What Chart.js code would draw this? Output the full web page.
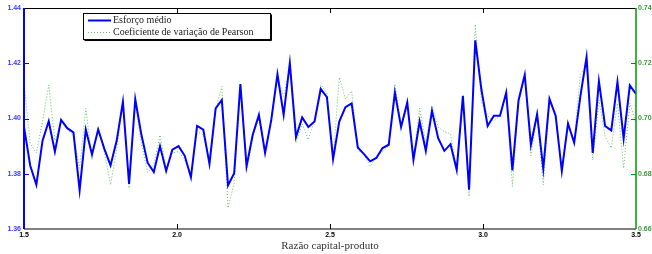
<!DOCTYPE html>
<html>
<head>
<meta charset="utf-8">
<script src="https://cdn.jsdelivr.net/npm/chart.js@4.4.1/dist/chart.umd.min.js"></script>
<style>
  html, body { margin: 0; padding: 0; background: #fff; }
  #wrap { width: 652px; height: 254px; }
</style>
</head>
<body>
<div id="wrap"><canvas id="chart" width="652" height="254"></canvas></div>
<script>
// razão capital-produto (100 pontos entre 1.5 e 3.5)
const razao = [
  1.5, 1.5202, 1.5404, 1.5606, 1.5808, 1.6010, 1.6212, 1.6414, 1.6616, 1.6818,
  1.7020, 1.7222, 1.7424, 1.7626, 1.7828, 1.8030, 1.8232, 1.8434, 1.8636, 1.8838,
  1.9040, 1.9242, 1.9444, 1.9646, 1.9848, 2.0051, 2.0253, 2.0455, 2.0657, 2.0859,
  2.1061, 2.1263, 2.1465, 2.1667, 2.1869, 2.2071, 2.2273, 2.2475, 2.2677, 2.2879,
  2.3081, 2.3283, 2.3485, 2.3687, 2.3889, 2.4091, 2.4293, 2.4495, 2.4697, 2.4899,
  2.5101, 2.5303, 2.5505, 2.5707, 2.5909, 2.6111, 2.6313, 2.6515, 2.6717, 2.6919,
  2.7121, 2.7323, 2.7525, 2.7727, 2.7929, 2.8131, 2.8333, 2.8535, 2.8737, 2.8939,
  2.9141, 2.9343, 2.9545, 2.9747, 2.9949, 3.0152, 3.0354, 3.0556, 3.0758, 3.0960,
  3.1162, 3.1364, 3.1566, 3.1768, 3.1970, 3.2172, 3.2374, 3.2576, 3.2778, 3.2980,
  3.3182, 3.3384, 3.3586, 3.3788, 3.3990, 3.4192, 3.4394, 3.4596, 3.4798, 3.5
];

const esforco = [
  1.397, 1.383, 1.376, 1.392, 1.399, 1.388, 1.3995, 1.3965, 1.395, 1.374,
  1.396, 1.387, 1.396, 1.389, 1.383, 1.392, 1.406, 1.3763, 1.407, 1.394,
  1.384, 1.3806, 1.390, 1.381, 1.3887, 1.390, 1.3865, 1.3787, 1.3973, 1.396,
  1.3836, 1.4037, 1.4067, 1.3758, 1.3802, 1.4125, 1.3827, 1.3941, 1.4013, 1.3875,
  1.3995, 1.416, 1.4013, 1.420, 1.3933, 1.4004, 1.3969, 1.3989, 1.4107, 1.4077,
  1.3853, 1.3989, 1.4041, 1.4055, 1.3895, 1.3871, 1.3845, 1.3857, 1.3893, 1.3905,
  1.4094, 1.3969, 1.4058, 1.3851, 1.3989, 1.3883, 1.4028, 1.3929, 1.3883, 1.3907,
  1.3814, 1.4082, 1.3742, 1.4283, 1.4104, 1.3973, 1.401, 1.401, 1.4094, 1.3812,
  1.4066, 1.4158, 1.3905, 1.4016, 1.3818, 1.4071, 1.401, 1.381, 1.3982, 1.3912,
  1.408, 1.4222, 1.3875, 1.4135, 1.3973, 1.3957, 1.4132, 1.3927, 1.412, 1.4089
];

const pearson = [
  0.713, 0.691, 0.6875, 0.699, 0.7121, 0.692, 0.699, 0.696, 0.694, 0.682,
  0.7037, 0.685, 0.697, 0.688, 0.676, 0.689, 0.7067, 0.6748, 0.7055, 0.691,
  0.6805, 0.683, 0.694, 0.682, 0.6875, 0.688, 0.685, 0.680, 0.6953, 0.6941,
  0.685, 0.7031, 0.7116, 0.6676, 0.6766, 0.712, 0.6808, 0.693, 0.700, 0.688,
  0.700, 0.715, 0.708, 0.718, 0.6911, 0.698, 0.6923, 0.6995, 0.7122, 0.7092,
  0.6851, 0.7149, 0.707, 0.710, 0.6887, 0.6869, 0.6827, 0.6863, 0.688, 0.6901,
  0.7125, 0.6971, 0.7043, 0.685, 0.7037, 0.691, 0.7046, 0.6969, 0.6952, 0.6945,
  0.681, 0.7073, 0.6718, 0.7341, 0.706, 0.701, 0.699, 0.701, 0.709, 0.6754,
  0.7055, 0.715, 0.6865, 0.7013, 0.676, 0.7067, 0.7013, 0.682, 0.697, 0.692,
  0.716, 0.719, 0.685, 0.7067, 0.6935, 0.6893, 0.7055, 0.682, 0.7055, 0.6983
];

const xTicks = [1.5, 2, 2.5, 3, 3.5];
const yTicks = [1.36, 1.38, 1.4, 1.42, 1.44];
const y2Ticks = [0.66, 0.68, 0.7, 0.72, 0.74];

const BLUE = '#0000ff';
const GREEN = '#009900';
const tickFont = { family: 'Liberation Sans', size: 7, weight: 'bold' };
const serif = 'Liberation Serif';

// moldura estilo matlab, com ticks para dentro
const framePlugin = {
  id: 'frame',
  afterDatasetsDraw(chart) {
    const { ctx, chartArea: a, scales } = chart;
    const tl = 5;
    ctx.save();
    ctx.lineWidth = 1;
    ctx.strokeStyle = '#000';
    ctx.beginPath();
    ctx.moveTo(a.left, a.top + 0.5); ctx.lineTo(a.right, a.top + 0.5);
    ctx.moveTo(a.left, a.bottom); ctx.lineTo(a.right, a.bottom);
    xTicks.slice(1, -1).forEach(v => {
      const x = Math.round(scales.x.getPixelForValue(v)) + 0.5;
      ctx.moveTo(x, a.top); ctx.lineTo(x, a.top + tl);
      ctx.moveTo(x, a.bottom); ctx.lineTo(x, a.bottom - tl);
    });
    ctx.stroke();

    ctx.strokeStyle = BLUE;
    ctx.lineWidth = 2;
    ctx.beginPath();
    ctx.moveTo(a.left, a.top); ctx.lineTo(a.left, a.bottom);
    ctx.stroke();
    ctx.lineWidth = 1;
    ctx.beginPath();
    yTicks.slice(1, -1).forEach(v => {
      const y = Math.round(scales.y.getPixelForValue(v)) + 0.5;
      ctx.moveTo(a.left, y); ctx.lineTo(a.left + tl, y);
    });
    ctx.stroke();

    ctx.strokeStyle = GREEN;
    ctx.lineWidth = 1.5;
    ctx.beginPath();
    ctx.moveTo(a.right, a.top); ctx.lineTo(a.right, a.bottom);
    ctx.stroke();
    ctx.lineWidth = 1;
    ctx.beginPath();
    y2Ticks.slice(1, -1).forEach(v => {
      const y = Math.round(scales.y2.getPixelForValue(v)) + 0.5;
      ctx.moveTo(a.right, y); ctx.lineTo(a.right - tl, y);
    });
    ctx.stroke();
    ctx.restore();
  }
};

// legenda dentro do gráfico
const legendPlugin = {
  id: 'boxLegend',
  afterDraw(chart) {
    const { ctx } = chart;
    const x = 83.5, y = 13.5, w = 187, h = 26;
    ctx.save();
    ctx.fillStyle = '#fff';
    ctx.fillRect(x, y, w, h);
    ctx.strokeStyle = '#000';
    ctx.lineWidth = 1;
    ctx.strokeRect(x, y, w, h);
    ctx.beginPath();
    ctx.moveTo(x + 1, y + h + 1); ctx.lineTo(x + w + 1, y + h + 1); ctx.lineTo(x + w + 1, y + 1);
    ctx.stroke();

    ctx.strokeStyle = BLUE;
    ctx.lineWidth = 2;
    ctx.beginPath(); ctx.moveTo(88, 20.5); ctx.lineTo(111, 20.5); ctx.stroke();
    ctx.strokeStyle = 'rgba(0,150,0,0.6)';
    ctx.lineWidth = 1;
    ctx.setLineDash([1, 2]);
    ctx.beginPath(); ctx.moveTo(88, 32.5); ctx.lineTo(111, 32.5); ctx.stroke();
    ctx.setLineDash([]);

    ctx.fillStyle = '#222';
    ctx.font = '10px "' + serif + '"';
    ctx.textBaseline = 'middle';
    ctx.fillText('Esforço médio', 113, 20.5);
    ctx.fillText('Coeficiente de variação de Pearson', 113, 32.5);
    ctx.restore();
  }
};

const fixedTicks = list => scale => { scale.ticks = list.map(v => ({ value: v })); };

new Chart(document.getElementById('chart'), {
  type: 'line',
  data: {
    datasets: [
      {
        label: 'Esforço médio',
        data: razao.map((x, i) => ({ x, y: esforco[i] })),
        yAxisID: 'y',
        borderColor: BLUE,
        borderWidth: 2,
        pointRadius: 0,
        tension: 0
      },
      {
        label: 'Coeficiente de variação de Pearson',
        data: razao.map((x, i) => ({ x, y: pearson[i] })),
        yAxisID: 'y2',
        borderColor: 'rgba(0,150,0,0.6)',
        borderWidth: 1,
        borderDash: [1, 2],
        pointRadius: 0,
        tension: 0
      }
    ]
  },
  options: {
    responsive: false,
    animation: false,
    layout: { padding: { top: 8, left: 0, right: 0, bottom: 0 } },
    plugins: { legend: { display: false }, tooltip: { enabled: false } },
    scales: {
      x: {
        type: 'linear', min: 1.5, max: 3.5,
        afterBuildTicks: fixedTicks(xTicks),
        afterFit: s => { s.height = 25; },
        grid: { display: false, drawTicks: false },
        border: { display: false },
        ticks: { font: tickFont, color: '#000', padding: 2, maxRotation: 0, autoSkip: false },
        title: {
          display: true, text: 'Razão capital-produto', color: '#333',
          font: { family: serif, size: 11 }, padding: { top: 0, bottom: 1.5 }
        }
      },
      y: {
        position: 'left', min: 1.36, max: 1.44,
        afterBuildTicks: fixedTicks(yTicks),
        afterFit: s => { s.width = 24; },
        grid: { display: false, drawTicks: false },
        border: { display: false },
        ticks: { font: tickFont, color: '#3b3bff', padding: 3 }
      },
      y2: {
        position: 'right', min: 0.66, max: 0.74,
        afterBuildTicks: fixedTicks(y2Ticks),
        afterFit: s => { s.width = 16; },
        grid: { display: false, drawTicks: false },
        border: { display: false },
        ticks: { font: tickFont, color: '#3a9a3a', padding: 2 }
      }
    }
  },
  plugins: [framePlugin, legendPlugin]
});
</script>
</body>
</html>
